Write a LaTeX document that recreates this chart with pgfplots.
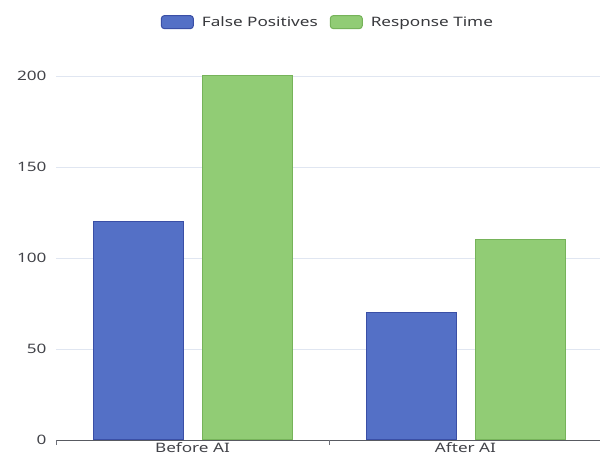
\documentclass[border=0pt]{standalone}
\usepackage{fontspec}
\setmainfont{Noto Sans}[FakeStretch=1.32]
\usepackage{pgfplots}
\pgfplotsset{compat=1.18}
\definecolor{epblue}{HTML}{5470C6}
\definecolor{epbluedark}{HTML}{3A4FA6}
\definecolor{epgreen}{HTML}{91CC75}
\definecolor{epgreendark}{HTML}{76B35A}
\definecolor{axgray}{HTML}{6E7079}
\definecolor{gridgray}{HTML}{E0E6F1}
\begin{document}
\begin{tikzpicture}
\path[use as bounding box] (0,0) rectangle (600bp,458bp);
\begin{axis}[
  at={(56bp,18bp)}, anchor=south west,
  scale only axis, width=546bp, height=364bp,
  xmin=-0.5, xmax=1.5, ymin=0, ymax=200,
  axis lines*=left,
  y axis line style={draw=none},
  x axis line style={draw=axgray!80!black, line width=0.8bp},
  ytick={0,50,100,150,200},
  ymajorgrids, grid style={gridgray, line width=0.8bp},
  ytick style={draw=none},
  xtick={0,1}, xticklabels={Before AI, After AI},
  xtick style={draw=none},
  extra x ticks={-0.5,0.5,1.5}, extra x tick labels={},
  extra x tick style={xtick style={draw=axgray, line width=0.8bp}, major tick length=5bp, tick align=outside, grid=none},
  tick label style={font=\fontsize{13bp}{15bp}\selectfont, text=axgray!60!black},
  yticklabel style={xshift=-6bp},
  xticklabel style={yshift=-1.5bp, inner sep=0.5bp},
  /pgf/number format/assume math mode=true,
  legend columns=2,
  legend style={draw=none, fill=none, at={(0.498,1.148)}, anchor=center,
    font=\fontsize{13bp}{15bp}\selectfont, text=axgray!50!black,
    /tikz/every odd column/.append style={column sep=6bp},
    /tikz/every even column/.append style={column sep=10bp}},
  legend image code/.code={\draw[#1, rounded corners=3bp, line width=1bp] (0bp,-6.5bp) rectangle (32bp,6.5bp);},
]
\addplot[ybar, bar width=90bp, bar shift=-54.5bp, fill=epblue, draw=epbluedark, line width=1bp] coordinates {(0,120) (1,70)};
\addlegendentry{False Positives}
\addplot[ybar, bar width=90bp, bar shift=54.5bp, fill=epgreen, draw=epgreendark, line width=1bp] coordinates {(0,200) (1,110)};
\addlegendentry{Response Time}
\end{axis}
\end{tikzpicture}
\end{document}
